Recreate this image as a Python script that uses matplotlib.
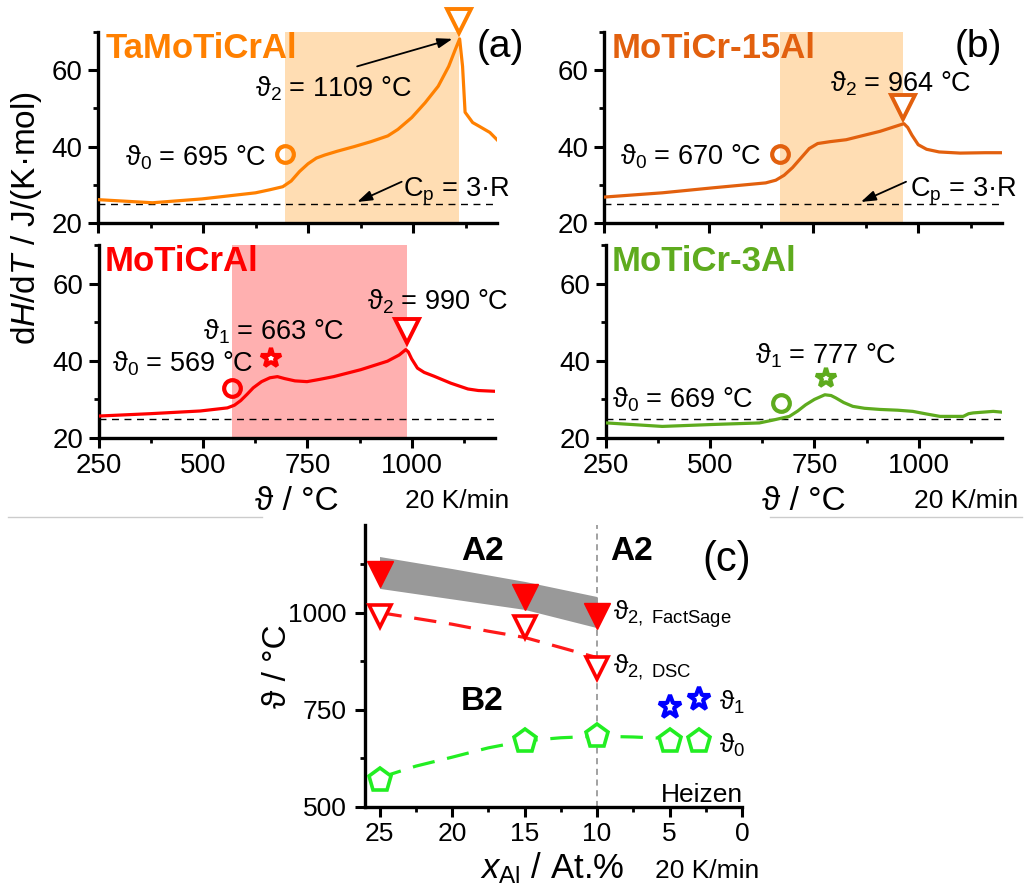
import numpy as np
import matplotlib
matplotlib.use("Agg")
import matplotlib.pyplot as plt
from matplotlib.lines import Line2D
from matplotlib.ticker import MultipleLocator

plt.rcParams['font.family'] = ['Liberation Sans', 'DejaVu Sans']
plt.rcParams['mathtext.fontset'] = 'custom'
plt.rcParams['mathtext.rm'] = 'Liberation Sans'
plt.rcParams['mathtext.it'] = 'Liberation Sans:italic'
plt.rcParams['mathtext.bf'] = 'Liberation Sans:bold'
plt.rcParams['mathtext.default'] = 'regular'

# --- DSC curves, dH/dT in J/(K mol) vs temperature in degC ---
T_a = [252, 380, 497, 625, 659, 690, 710, 730, 750, 770, 790, 820, 860, 900, 940, 964, 997, 1029, 1060,
       1085, 1101, 1111, 1118, 1124, 1142, 1158, 1183, 1200]
cp_a = [26.1, 25.3, 26.3, 27.9, 28.7, 29.5, 31.0, 33.5, 35.5, 37.0, 37.8, 38.8, 40.0, 41.3, 42.8, 44.5,
        47.6, 51.5, 55.8, 61.0, 65.5, 68.2, 61.0, 49.0, 46.3, 45.3, 43.7, 41.8]

T_b = [252, 389, 509, 636, 660, 680, 700, 720, 740, 760, 790, 828, 909, 960, 966, 975, 985, 1000, 1020,
       1050, 1100, 1160, 1200]
cp_b = [26.8, 27.9, 29.2, 30.5, 31.2, 32.5, 34.5, 37.0, 39.5, 40.8, 41.3, 41.8, 44.0, 45.8, 46.0, 45.0,
        43.0, 40.5, 39.3, 38.6, 38.3, 38.4, 38.4]

T_c = [252, 373, 493, 558, 575, 590, 605, 620, 640, 660, 678, 695, 720, 749, 780, 813, 878, 942, 970,
       986, 992, 1000, 1014, 1030, 1054, 1094, 1135, 1160, 1200]
cp_c = [25.7, 26.3, 27.0, 27.8, 28.5, 29.7, 31.3, 33.0, 34.6, 35.6, 35.9, 35.4, 34.8, 34.6, 35.2, 35.9,
        37.7, 39.9, 41.5, 42.9, 42.3, 40.5, 38.1, 37.0, 36.0, 34.2, 32.7, 32.3, 32.1]

T_d = [252, 385, 505, 618, 649, 690, 710, 729, 750, 775, 790, 801, 820, 842, 870, 907, 950, 986, 1020,
       1051, 1107, 1120, 1131, 1179, 1200]
cp_d = [23.9, 23.0, 23.5, 23.9, 24.6, 25.6, 27.0, 28.6, 30.0, 31.2, 31.0, 30.4, 29.2, 28.2, 27.7, 27.4,
        27.2, 26.9, 26.2, 25.6, 25.6, 26.3, 26.5, 26.9, 26.7]

# characteristic temperatures (degC)
t0_a, t2_a = 695, 1109
t0_b, t2_b = 670, 964
t0_c, t1_c, t2_c = 569, 663, 990
t0_d, t1_d = 669, 777
cp3R = 3 * 8.314

# --- phase diagram data vs Al content (at.%) ---
x_fs = [25, 15, 10]
t2_fs = [1100, 1040, 990]
x_dsc = [25, 15, 10]
t2_dsc = [990, 964, 858]
x_t0 = [25, 15, 10, 5, 3]
t0_all = [569, 670, 682, 670, 669]
x_t1 = [5, 3]
t1_all = [758, 777]
x_band = [25, 20, 15, 10]
band_hi = [1144, 1113, 1080, 1041]
band_lo = [1062, 1035, 1008, 961]
x_dsc_guide = [25, 22.5, 20, 17.5, 15, 12.5, 10]
y_dsc_guide = [1000, 985, 970, 952, 936, 910, 884]
x_t0_guide = [25, 22.5, 20, 17.5, 15, 12.5, 10, 7.5, 5, 3]
y_t0_guide = [575, 605, 628, 652, 670, 678, 682, 680, 676, 672]

W, H = 1025, 889
fig = plt.figure(figsize=(W / 100, H / 100), dpi=100)


def px_axes(l, t, r, b):
    return fig.add_axes([l / W, 1 - b / H, (r - l) / W, (b - t) / H])


def ftext(px, py, s, **kw):
    fig.text(px / W, 1 - py / H, s, **kw)


def style(ax, size=20):
    for s in ['top', 'right']:
        ax.spines[s].set_visible(False)
    for s in ['left', 'bottom']:
        ax.spines[s].set_linewidth(2.4)
    ax.tick_params(which='major', direction='out', length=7, width=2.2, labelsize=size, pad=4)
    ax.tick_params(which='minor', direction='out', length=3.5, width=2.0)


def dsc_axes(ax, T, cp, color, labels=False):
    style(ax)
    ax.plot(T, cp, color=color, lw=2.3, zorder=3, solid_joinstyle='round')
    ax.axhline(cp3R, color='k', lw=1.0, ls=(0, (5, 4)), zorder=2)
    ax.set_xlim(250, 1200)
    ax.set_ylim(20, 70)
    ax.xaxis.set_major_locator(MultipleLocator(250))
    ax.xaxis.set_minor_locator(MultipleLocator(125))
    ax.yaxis.set_major_locator(MultipleLocator(20))
    ax.yaxis.set_minor_locator(MultipleLocator(10))
    if not labels:
        ax.tick_params(labelbottom=False)


arrow = dict(arrowstyle='-|>,head_length=0.9,head_width=0.3', color='k', lw=1.3, shrinkA=0, shrinkB=0)
peach = '#FFDDB3'
ann = 19.5
tsize = 25

# (a) TaMoTiCrAl
c_a = '#FF8000'
ax_a = px_axes(98, 32, 497, 223)
dsc_axes(ax_a, T_a, cp_a, c_a)
ax_a.axvspan(t0_a, t2_a, color=peach, lw=0, zorder=0)
ax_a.plot(t0_a, 38, 'o', ms=12, mfc='none', mec=c_a, mew=3, zorder=4)
ax_a.plot(t2_a, 73, 'v', ms=17, mfc='white', mec=c_a, mew=2.8, clip_on=False, zorder=4)
ax_a.text(0.02, 0.865, 'TaMoTiCrAl', transform=ax_a.transAxes, color=c_a, fontsize=tsize,
          fontweight='bold', va='baseline', zorder=5)
ax_a.text(623, 53, 'ϑ$_2$ = 1109 °C', fontsize=ann, va='baseline')
ax_a.annotate('', xy=(1094, 68.2), xytext=(867, 61), arrowprops=arrow)
ax_a.text(650, 35, 'ϑ$_0$ = 695 °C', fontsize=ann, va='baseline', ha='right')
ax_a.text(976, 27, 'C$_p$ = 3·R', fontsize=ann, va='baseline', clip_on=False)
ax_a.annotate('', xy=(867, 25.5), xytext=(973, 30.8), arrowprops=arrow)

# (b) MoTiCr-15Al
c_b = '#E2600E'
ax_b = px_axes(604, 32, 1002, 223)
dsc_axes(ax_b, T_b, cp_b, c_b)
ax_b.axvspan(t0_b, t2_b, color=peach, lw=0, zorder=0)
ax_b.plot(t0_b, 38, 'o', ms=12, mfc='none', mec=c_b, mew=3, zorder=4)
ax_b.plot(t2_b, 50.3, 'v', ms=17, mfc='white', mec=c_b, mew=2.8, zorder=4)
ax_b.text(0.02, 0.865, 'MoTiCr-15Al', transform=ax_b.transAxes, color=c_b, fontsize=tsize,
          fontweight='bold', va='baseline', zorder=5)
ax_b.text(789, 54.5, 'ϑ$_2$ = 964 °C', fontsize=ann, va='baseline')
ax_b.text(625, 35.3, 'ϑ$_0$ = 670 °C', fontsize=ann, va='baseline', ha='right')
ax_b.text(981, 27, 'C$_p$ = 3·R', fontsize=ann, va='baseline')
ax_b.annotate('', xy=(863, 25.5), xytext=(971, 30.8), arrowprops=arrow)

# MoTiCrAl
c_c = '#FF0000'
ax_c = px_axes(99, 245, 495, 438)
dsc_axes(ax_c, T_c, cp_c, c_c, labels=True)
ax_c.axvspan(t0_c, t2_c, color='#FFB0B0', lw=0, zorder=0)
ax_c.plot(t0_c, 33, 'o', ms=12, mfc='none', mec=c_c, mew=3, zorder=4)
ax_c.plot(t1_c, 40.6, '*', ms=15, mfc='white', mec=c_c, mew=3, zorder=4)
ax_c.plot(t2_c, 47.6, 'v', ms=17, mfc='white', mec=c_c, mew=2.8, zorder=4)
ax_c.text(0.015, 0.863, 'MoTiCrAl', transform=ax_c.transAxes, color=c_c, fontsize=tsize,
          fontweight='bold', va='baseline', zorder=5)
ax_c.text(894, 53.3, 'ϑ$_2$ = 990 °C', fontsize=ann, va='baseline', clip_on=False)
ax_c.text(500, 45.5, 'ϑ$_1$ = 663 °C', fontsize=ann, va='baseline')
ax_c.text(281, 37.3, 'ϑ$_0$ = 569 °C', fontsize=ann, va='baseline')

# MoTiCr-3Al
c_d = '#5EAB1E'
ax_d = px_axes(606, 245, 1002, 438)
dsc_axes(ax_d, T_d, cp_d, c_d, labels=True)
ax_d.plot(t0_d, 29.1, 'o', ms=12, mfc='none', mec=c_d, mew=3, zorder=4)
ax_d.plot(t1_d, 35.6, '*', ms=15, mfc='white', mec=c_d, mew=3, zorder=4)
ax_d.text(0.015, 0.863, 'MoTiCr-3Al', transform=ax_d.transAxes, color=c_d, fontsize=tsize,
          fontweight='bold', va='baseline', zorder=5)
ax_d.text(608, 39.2, 'ϑ$_1$ = 777 °C', fontsize=ann, va='baseline')
ax_d.text(264, 27.9, 'ϑ$_0$ = 669 °C', fontsize=ann, va='baseline')

ftext(27, 218, 'd$\\mathit{H}$/d$\\mathit{T}$ / J/(K·mol)', fontsize=24, rotation=90,
      ha='center', va='center')
ftext(297, 510, 'ϑ / °C', fontsize=24, ha='center', va='baseline')
ftext(804, 510, 'ϑ / °C', fontsize=24, ha='center', va='baseline')
ftext(405, 508, '20 K/min', fontsize=19, va='baseline')
ftext(914, 508, '20 K/min', fontsize=19, va='baseline')
ftext(477, 57, '(a)', fontsize=28, va='baseline')
ftext(955, 57, '(b)', fontsize=28, va='baseline')

fig.add_artist(Line2D([8 / W, 262 / W], [1 - 517 / H] * 2, color='#cccccc', lw=1))
fig.add_artist(Line2D([770 / W, 1022 / W], [1 - 517 / H] * 2, color='#cccccc', lw=1))

# (c) transition temperatures vs Al content
ax_p = px_axes(365, 525, 742, 807)
style(ax_p, size=19)
ax_p.set_xlim(26, 0)
ax_p.set_ylim(500, 1225)
ax_p.xaxis.set_major_locator(MultipleLocator(5))
ax_p.xaxis.set_minor_locator(MultipleLocator(2.5))
ax_p.yaxis.set_major_locator(MultipleLocator(250))
ax_p.yaxis.set_minor_locator(MultipleLocator(125))
ax_p.tick_params(axis='y', pad=6)

ax_p.axvline(10, color='#888888', lw=1.1, ls=(0, (4, 3)), zorder=1)
ax_p.fill_between(x_band, band_lo, band_hi, color='#999999', lw=0, zorder=1)
ax_p.plot(x_dsc_guide, y_dsc_guide, color='#FF1A1A', lw=2.3, ls=(0, (7, 4)), zorder=2)
ax_p.plot(x_t0_guide, y_t0_guide, color='#22EE22', lw=2.3, ls=(0, (7, 4)), zorder=2)
ax_p.plot(x_fs, t2_fs, 'v', ms=19, color='#FF0000', mec='#FF0000', ls='none', zorder=4, clip_on=False)
ax_p.plot(x_dsc, t2_dsc, 'v', ms=16, mfc='white', mec='#FF0000', mew=2.6, ls='none', zorder=4,
          clip_on=False)
ax_p.plot(x_t0, t0_all, 'p', ms=17, mfc='white', mec='#22EE22', mew=2.6, ls='none', zorder=4,
          clip_on=False)
ax_p.plot(x_t1, t1_all, '*', ms=17, mfc='white', mec='#0000FF', mew=3, ls='none', zorder=4)

ax_p.text(17.9, 1157, 'A2', fontsize=24, fontweight='bold', ha='center', va='center')
ax_p.text(7.6, 1157, 'A2', fontsize=24, fontweight='bold', ha='center', va='center')
ax_p.text(17.9, 771, 'B2', fontsize=24, fontweight='bold', ha='center', va='center')
ax_p.text(8.9, 982, 'ϑ$_{2,\\ FactSage}$', fontsize=19, va='baseline', clip_on=False)
ax_p.text(8.9, 845, 'ϑ$_{2,\\ DSC}$', fontsize=19, va='baseline')
ax_p.text(1.6, 750, 'ϑ$_1$', fontsize=19, va='baseline', clip_on=False)
ax_p.text(1.6, 639, 'ϑ$_0$', fontsize=19, va='baseline', clip_on=False)
ax_p.text(-0.05, 513, 'Heizen', fontsize=19, ha='right', va='baseline', clip_on=False)

ftext(727, 560, '(c)', fontsize=30, ha='center', va='center')
ftext(278, 666, 'ϑ / °C', fontsize=24, rotation=90, ha='center', va='center')
ftext(552, 878, '$\\mathit{x}_{Al}$ / At.%', fontsize=25, ha='center', va='baseline')
ftext(655, 878, '20 K/min', fontsize=19, va='baseline')

fig.savefig('out.png', dpi=100)
